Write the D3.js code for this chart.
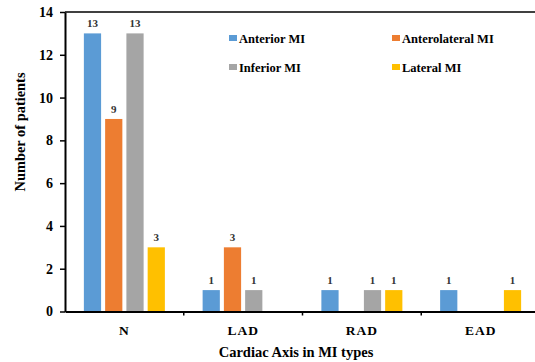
<!DOCTYPE html>
<html><head><meta charset="utf-8">
<script src="https://cdn.jsdelivr.net/npm/d3@7"></script>
<style>
body{margin:0;background:#fff;}
text{font-family:"Liberation Serif","Times New Roman",serif;font-weight:bold;}
</style></head>
<body><svg id="c" width="535" height="362"></svg>
<script>
const categories = ["N","LAD","RAD","EAD"];
const seriesNames = ["Anterior MI","Anterolateral MI","Inferior MI","Lateral MI"];
const anterior = [13,1,1,1];
const anterolateral = [9,3,0,0];
const inferior = [13,1,1,0];
const lateral = [3,0,1,1];
const yTicks = [0,2,4,6,8,10,12,14];
const colors = ["#5B9BD5","#ED7D31","#A5A5A5","#FFC000"];
const seriesValues = [anterior, anterolateral, inferior, lateral];

const svg = d3.select("#c");
const mLeft = 65, mTop = 12, mBottom = 311.5, mRight = 540;
const x = d3.scaleBand().domain(categories).range([mLeft, mRight]);
const y = d3.scaleLinear().domain([0,14]).range([mBottom, mTop]);
const SERIF = "'Liberation Serif','Times New Roman',serif";

// top border line
svg.append("line").attr("x1",mLeft).attr("x2",535).attr("y1",mTop).attr("y2",mTop)
  .attr("stroke","#000").attr("stroke-width",1.5);

// bars
categories.forEach((cat, ci) => {
  const cx = x(cat) + x.bandwidth()/2;
  const inner = d3.scaleBand().domain(seriesNames).range([cx-40.5, cx+40.5]).paddingInner(0.19);
  seriesNames.forEach((s, si) => {
    const v = seriesValues[si][ci];
    if (!v) return;
    svg.append("rect").attr("x", inner(s)).attr("width", inner.bandwidth())
      .attr("y", y(v)).attr("height", y(0)-y(v)).attr("fill", colors[si]);
    svg.append("text").attr("x", inner(s)+inner.bandwidth()/2).attr("y", y(v)-6)
      .attr("text-anchor","middle").attr("font-size",11).attr("fill","#333").text(v);
  });
});

// y axis
const yAxis = svg.append("g").attr("transform",`translate(${mLeft},0)`)
  .call(d3.axisLeft(y).tickValues(yTicks).tickSize(5).tickPadding(7).tickSizeOuter(0));
yAxis.select(".domain").attr("stroke","#000").attr("stroke-width",2);
yAxis.selectAll(".tick line").attr("stroke","#000").attr("stroke-width",1.5);
yAxis.selectAll("text").attr("font-size",14).attr("fill","#000")
  .style("font-family",SERIF).style("font-weight","bold");

// x axis
const xAxis = svg.append("g").attr("transform",`translate(0,${mBottom})`)
  .call(d3.axisBottom(x).tickSize(0).tickPadding(14).tickSizeOuter(0));
xAxis.select(".domain").attr("stroke","#000").attr("stroke-width",2);
xAxis.selectAll("text").attr("font-size",13.5).attr("fill","#000").attr("letter-spacing",1)
  .style("font-family",SERIF).style("font-weight","bold");
// boundary tick marks between categories
categories.slice(1).forEach(c => {
  svg.append("line").attr("x1", x(c)).attr("x2", x(c)).attr("y1", mBottom).attr("y2", mBottom+4)
    .attr("stroke","#000").attr("stroke-width",1.5);
});

// axis titles
svg.append("text").attr("transform",`translate(25,132) rotate(-90)`)
  .attr("text-anchor","middle").attr("font-size",15.5).attr("fill","#000")
  .attr("textLength",119).attr("lengthAdjust","spacingAndGlyphs").text("Number of patients");
svg.append("text").attr("x",296).attr("y",357).attr("text-anchor","middle")
  .attr("font-size",14.5).attr("fill","#000").text("Cardiac Axis in MI types");

// legend
const legendPos = [[229,38],[392,38],[229,67],[392,67]];
seriesNames.forEach((s,i) => {
  const [lx,ly] = legendPos[i];
  svg.append("rect").attr("x",lx).attr("y",ly-3).attr("width",8).attr("height",6).attr("fill",colors[i]);
  svg.append("text").attr("x",lx+10).attr("y",ly+4.5).attr("font-size",12.5).attr("fill","#000").text(s);
});
</script></body></html>
